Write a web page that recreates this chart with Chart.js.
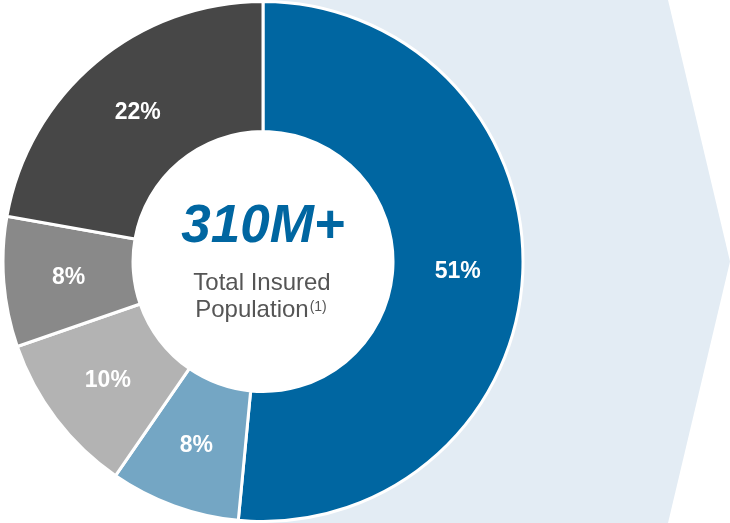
<!DOCTYPE html>
<html>
<head>
<meta charset="utf-8">
<script src="https://cdn.jsdelivr.net/npm/chart.js@4"></script>
<style>
  html, body { margin: 0; padding: 0; background: #ffffff; }
  #wrap { width: 730px; height: 523px; position: relative; }
</style>
</head>
<body>
<div id="wrap"><canvas id="c" width="730" height="523"></canvas></div>
<script>
const categories = ['Segment A', 'Segment B', 'Segment C', 'Segment D', 'Segment E'];
const shares = [51, 8, 10, 8, 22];
const shareLabels = ['51%', '8%', '10%', '8%', '22%'];
const sliceColors = ['#0066A1', '#74A6C4', '#B3B3B3', '#898989', '#474747'];
const centerValue = '310M+';
const centerLine1 = 'Total Insured';
const centerLine2 = 'Population';
const centerNote = '(1)';

const FONT = '"Liberation Sans", Arial, Helvetica, sans-serif';

const chevronPlugin = {
  id: 'chevron',
  beforeDatasetsDraw(chart) {
    const ctx = chart.ctx;
    const W = chart.width, H = chart.height;
    const arc = chart.getDatasetMeta(0).data[0];
    const cx = arc.x, cy = arc.y;
    ctx.save();
    ctx.fillStyle = '#E3ECF4';
    ctx.beginPath();
    ctx.moveTo(cx, 0);
    ctx.lineTo(668, 0);
    ctx.lineTo(W, H / 2);
    ctx.lineTo(668, H);
    ctx.lineTo(cx, H);
    ctx.closePath();
    ctx.fill();
    ctx.fillStyle = '#ffffff';
    ctx.beginPath();
    ctx.arc(cx, cy, arc.innerRadius + 2, 0, Math.PI * 2);
    ctx.fill();
    ctx.restore();
  }
};

const labelPlugin = {
  id: 'sliceLabels',
  afterDatasetsDraw(chart) {
    const ctx = chart.ctx;
    const meta = chart.getDatasetMeta(0);
    ctx.save();
    ctx.fillStyle = '#ffffff';
    ctx.font = 'bold 23px ' + FONT;
    ctx.textAlign = 'center';
    ctx.textBaseline = 'middle';
    meta.data.forEach((arc, i) => {
      const p = arc.getCenterPoint();
      ctx.fillText(shareLabels[i], p.x, p.y + 1);
    });

    const cx = meta.data[0].x, cy = meta.data[0].y;
    ctx.textBaseline = 'alphabetic';
    ctx.fillStyle = '#0066A1';
    ctx.font = 'italic bold 53px ' + FONT;
    ctx.fillText(centerValue, cx, cy - 20);

    ctx.fillStyle = '#555555';
    ctx.font = '24px ' + FONT;
    ctx.fillText(centerLine1, cx - 1, cy + 28);

    ctx.font = '24px ' + FONT;
    const w2 = ctx.measureText(centerLine2).width;
    ctx.font = '14px ' + FONT;
    const w3 = ctx.measureText(centerNote).width;
    const total = w2 + 1 + w3;
    const startX = cx - 2 - total / 2;
    ctx.textAlign = 'left';
    ctx.font = '24px ' + FONT;
    ctx.fillText(centerLine2, startX, cy + 55);
    ctx.font = '14px ' + FONT;
    ctx.fillText(centerNote, startX + w2 + 1, cy + 49);
    ctx.restore();
  }
};

new Chart(document.getElementById('c'), {
  type: 'doughnut',
  data: {
    labels: categories,
    datasets: [{
      data: shares,
      backgroundColor: sliceColors,
      borderColor: '#ffffff',
      borderWidth: 3,
      hoverOffset: 0
    }]
  },
  options: {
    responsive: false,
    animation: false,
    cutout: '50%',
    rotation: 0,
    layout: { padding: { left: -2, top: -2, bottom: -2, right: 204 } },
    plugins: {
      legend: { display: false },
      tooltip: { enabled: false }
    },
    events: []
  },
  plugins: [chevronPlugin, labelPlugin]
});
</script>
</body>
</html>
